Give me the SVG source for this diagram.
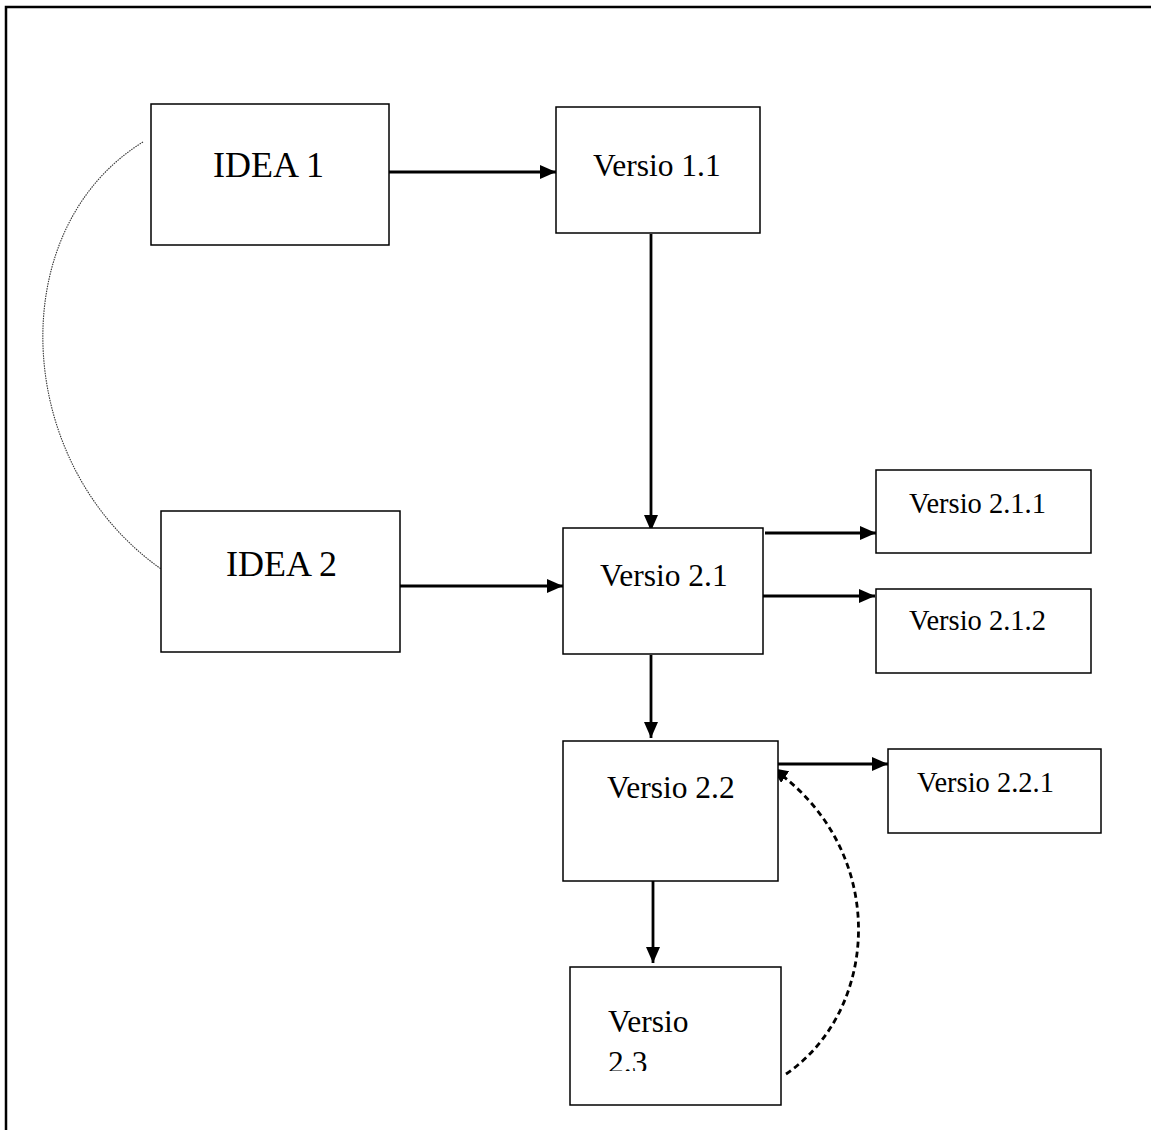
<svg xmlns="http://www.w3.org/2000/svg" width="1151" height="1130" viewBox="0 0 1151 1130">
<style>
.box{fill:#fff;stroke:#000;stroke-width:1.5}
.big{font-family:"Liberation Serif","Times New Roman",serif;font-size:36px;fill:#000}
.mid{font-family:"Liberation Serif","Times New Roman",serif;font-size:31.5px;fill:#000}
.sm{font-family:"Liberation Serif","Times New Roman",serif;font-size:28.5px;fill:#000}
.arr{fill:none;stroke:#000;stroke-width:2.8}
</style>
<defs>
<marker id="ah" viewBox="0 0 16 14" refX="16" refY="7" markerWidth="16" markerHeight="14" markerUnits="userSpaceOnUse" orient="auto"><path d="M0,0 L16,7 L0,14 z" fill="#000"/></marker>
<clipPath id="c23"><rect x="560" y="960" width="230" height="111"/></clipPath>
</defs>
<rect width="1151" height="1130" fill="#fff"/>
<path d="M6,1130 V7 H1151" fill="none" stroke="#000" stroke-width="2.5"/>
<g id="connectors">
<path d="M143,142 C0,230 12,470 167,573" fill="none" stroke="#333" stroke-width="1.1" stroke-dasharray="1.5 1"/>
<line class="arr" x1="389" y1="172" x2="556" y2="172" marker-end="url(#ah)"/>
<line class="arr" x1="651" y1="234" x2="651" y2="531" marker-end="url(#ah)"/>
<line class="arr" x1="400" y1="586" x2="563" y2="586" marker-end="url(#ah)"/>
<line class="arr" x1="765" y1="533" x2="876" y2="533" marker-end="url(#ah)"/>
<line class="arr" x1="763" y1="596" x2="875" y2="596" marker-end="url(#ah)"/>
<line class="arr" x1="651" y1="655" x2="651" y2="738" marker-end="url(#ah)"/>
<line class="arr" x1="778" y1="764" x2="888" y2="764" marker-end="url(#ah)"/>
<line class="arr" x1="653" y1="881" x2="653" y2="963" marker-end="url(#ah)"/>
<path class="arr" d="M786,1074 C880,1010 890,850 772,768" stroke-width="2.2" stroke-dasharray="6 4" marker-end="url(#ah)"/>
</g>
<g id="idea1"><rect class="box" x="151" y="104" width="238" height="141"/><text class="big" x="213" y="177">IDEA 1</text></g>
<g id="idea2"><rect class="box" x="161" y="511" width="239" height="141"/><text class="big" x="226" y="576">IDEA 2</text></g>
<g id="v11"><rect class="box" x="556" y="107" width="204" height="126"/><text class="mid" x="593" y="176">Versio 1.1</text></g>
<g id="v21"><rect class="box" x="563" y="528" width="200" height="126"/><text class="mid" x="600" y="586">Versio 2.1</text></g>
<g id="v211"><rect class="box" x="876" y="470" width="215" height="83"/><text class="sm" x="909" y="513">Versio 2.1.1</text></g>
<g id="v212"><rect class="box" x="876" y="589" width="215" height="84"/><text class="sm" x="909" y="630">Versio 2.1.2</text></g>
<g id="v22"><rect class="box" x="563" y="741" width="215" height="140"/><text class="mid" x="607" y="798">Versio 2.2</text></g>
<g id="v221"><rect class="box" x="888" y="749" width="213" height="84"/><text class="sm" x="917" y="792">Versio 2.2.1</text></g>
<g id="v23"><rect class="box" x="570" y="967" width="211" height="138"/><g clip-path="url(#c23)"><text class="mid" x="608" y="1032">Versio</text><text class="mid" x="608" y="1073">2.3</text></g></g>
</svg>
